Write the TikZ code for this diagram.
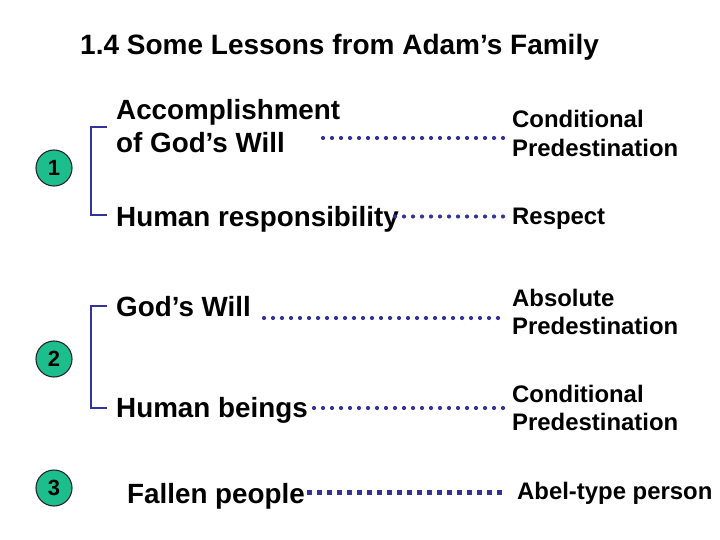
\documentclass[tikz,border=0pt]{standalone}
\usepackage{fontspec}
\setmainfont{Liberation Sans}
\definecolor{navy}{HTML}{333399}
\definecolor{teal}{HTML}{1DBE8E}
\tikzset{
  bigtxt/.style={anchor=base west, inner sep=0pt, font=\fontsize{27.8}{33}\selectfont\bfseries},
  smalltxt/.style={anchor=base west, inner sep=0pt, font=\fontsize{23.9}{28.5}\selectfont\bfseries},
  dotline/.style={navy, line width=4.2pt, line cap=round, dash pattern=on 0pt off 9pt},
  sqline/.style={navy, line width=4.5pt, line cap=butt, dash pattern=on 4.5pt off 5.5pt},
  brk/.style={navy, line width=2.5pt},
  numcirc/.style={circle, draw=black!85, line width=1.1pt, fill=teal, minimum size=36pt, inner sep=0pt, font=\fontsize{22}{22}\selectfont\bfseries}
}
\begin{document}
\begin{tikzpicture}[x=1pt,y=-1pt]
\useasboundingbox (0,0) rectangle (720,540);
\node[anchor=base west, inner sep=0pt, font=\fontsize{28}{30}\selectfont\bfseries] (title) at (80,55) {1.4 Some Lessons from Adam’s Family};
% left texts
\node[bigtxt] (a1) at (116,120) {Accomplishment};
\node[bigtxt] (a1b) at (116,153) {of God’s Will};
\node[bigtxt] (a2) at (116,226) {Human responsibility};
\node[bigtxt] (a3) at (116,316) {God’s Will};
\node[bigtxt] (a4) at (116,417) {Human beings};
\node[bigtxt] (a5) at (127,503) {Fallen people};
% right texts
\node[smalltxt] (b1) at (512,128) {Conditional};
\node[smalltxt] (b1b) at (512,157) {Predestination};
\node[smalltxt] (b2) at (512,225) {Respect};
\node[smalltxt] (b3) at (512,306) {Absolute};
\node[smalltxt] (b3b) at (512,334) {Predestination};
\node[smalltxt] (b4) at (512,402) {Conditional};
\node[smalltxt] (b4b) at (512,430) {Predestination};
\node[smalltxt] (b5) at (517,499) {Abel-type person};
% circles
\node[numcirc] (c1) at (54,168) {1};
\node[numcirc] (c2) at (54,359) {2};
\node[numcirc] (c3) at (54,488) {3};
% brackets
\coordinate (k1t) at (107,127); \coordinate (k1b) at (107,215);
\coordinate (k2t) at (107,306); \coordinate (k2b) at (107,408);
\draw[brk] (k1t) -- (91,127) -- (91,215) -- (k1b);
\draw[brk] (k2t) -- (91,306) -- (91,408) -- (k2b);
% dotted connectors
\coordinate (d1s) at (323,138); \coordinate (d1e) at (505,138);
\coordinate (d2s) at (395,216.5); \coordinate (d2e) at (505,216.5);
\coordinate (d3s) at (264,318); \coordinate (d3e) at (500,318);
\coordinate (d4s) at (314,408); \coordinate (d4e) at (505,408);
\coordinate (d5s) at (307,492.5); \coordinate (d5e) at (502,492.5);
\draw[dotline] (d1s) -- (d1e);
\draw[dotline] (d2s) -- (d2e);
\draw[dotline] (d3s) -- (d3e);
\draw[dotline] (d4s) -- (d4e);
\draw[sqline] (d5s) -- (d5e);
\end{tikzpicture}
\end{document}
